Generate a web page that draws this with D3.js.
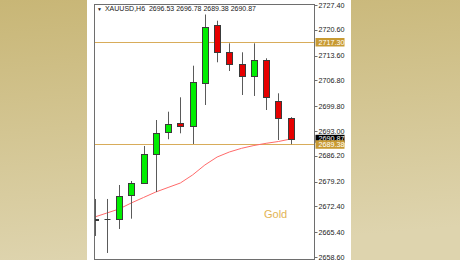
<!DOCTYPE html>
<html>
<head>
<meta charset="utf-8">
<script src="https://cdn.jsdelivr.net/npm/d3@7"></script>
<style>
  html, body { margin: 0; padding: 0; overflow: hidden; }
  svg { display: block; }
</style>
</head>
<body>
<div id="chart"></div>
<script>
// XAUUSD H6 candles
var opens  = [2668.57, 2668.90, 2668.90, 2675.61, 2678.89, 2686.72, 2692.65, 2695.10, 2694.37, 2706.02, 2721.86, 2714.49, 2711.29, 2708.02, 2712.30, 2701.27, 2696.53];
var highs  = [2674.44, 2674.44, 2678.26, 2679.35, 2688.91, 2696.00, 2698.27, 2702.20, 2710.83, 2724.81, 2723.11, 2716.94, 2714.49, 2716.94, 2712.85, 2703.29, 2696.78];
var lows   = [2664.34, 2659.70, 2666.25, 2669.06, 2678.80, 2676.35, 2690.74, 2692.37, 2689.45, 2700.10, 2711.76, 2709.38, 2702.83, 2702.56, 2698.73, 2690.54, 2689.38];
var closes = [2668.98, 2668.90, 2675.34, 2678.89, 2686.72, 2692.54, 2694.91, 2694.45, 2706.30, 2721.48, 2714.49, 2711.29, 2708.02, 2712.30, 2702.20, 2696.47, 2690.87];

// moving average
var maValues = [2669.5, 2670.6, 2671.7, 2673.35, 2674.85, 2676.35, 2677.58, 2678.8, 2681.0, 2683.72, 2685.9, 2687.27, 2688.28, 2689.04, 2689.64, 2690.13, 2690.82];

// price scale labels
var tickLabels = ["2727.40", "2720.60", "2713.60", "2706.80", "2699.80", "2693.00", "2686.20", "2679.20", "2672.40", "2665.40", "2658.60"];

// horizontal lines and bid
var levels = [2717.30, 2689.38];
var bid = 2690.87;
var title = "XAUUSD,H6  2696.53 2696.78 2689.38 2690.87";
var symbolName = "Gold";

var W = 460, H = 260;
var plot = {left: 94.5, top: 4.5, right: 314.5, bottom: 259.5};

var svg = d3.select("#chart").append("svg")
  .attr("width", W).attr("height", H);

// background gradient
var defs = svg.append("defs");
var grad = defs.append("linearGradient").attr("id", "bg")
  .attr("x1", 0).attr("y1", 0).attr("x2", 0.15).attr("y2", 1);
grad.append("stop").attr("offset", "0%").attr("stop-color", "#c8b676");
grad.append("stop").attr("offset", "100%").attr("stop-color", "#ded4ae");
svg.append("rect").attr("width", W).attr("height", H).attr("fill", "url(#bg)");

// white panel
svg.append("rect").attr("x", 87).attr("y", 0).attr("width", 264).attr("height", H)
  .attr("fill", "#ffffff");

defs.append("clipPath").attr("id", "plotclip")
  .append("rect")
  .attr("x", plot.left).attr("y", plot.top)
  .attr("width", plot.right - plot.left).attr("height", plot.bottom - plot.top);

var y = d3.scaleLinear()
  .domain([2658.6, 2727.4])
  .range([257, 5]);

var x = d3.scaleLinear()
  .domain([0, opens.length - 1])
  .range([94.5, 290.7]);

var candles = opens.map(function(o, i) {
  return {i: i, o: o, h: highs[i], l: lows[i], c: closes[i]};
});

var g = svg.append("g").attr("clip-path", "url(#plotclip)");

// level lines
g.selectAll(".level").data(levels).enter().append("line")
  .attr("x1", plot.left).attr("x2", plot.right)
  .attr("y1", d => Math.round(y(d)) + 0.5).attr("y2", d => Math.round(y(d)) + 0.5)
  .attr("stroke", "#d8ac5a").attr("stroke-width", 1);

// moving average
var maLine = d3.line()
  .x((d, i) => x(i))
  .y(d => y(d));
g.append("path").datum(maValues)
  .attr("d", maLine)
  .attr("fill", "none")
  .attr("stroke", "#ff6a6a")
  .attr("stroke-width", 1);

// candles
var bodyW = 6;
var cg = g.selectAll(".candle").data(candles).enter().append("g");

cg.append("line")
  .attr("x1", d => Math.round(x(d.i)) + 0.5)
  .attr("x2", d => Math.round(x(d.i)) + 0.5)
  .attr("y1", d => y(d.h))
  .attr("y2", d => y(d.l))
  .attr("stroke", "#5a5a5a");

cg.filter(d => d.o !== d.c).append("rect")
  .attr("x", d => Math.round(x(d.i)) - bodyW / 2 + 0.5)
  .attr("y", d => Math.round(y(Math.max(d.o, d.c))) + 0.5)
  .attr("width", bodyW)
  .attr("height", d => Math.max(1, Math.round(y(Math.min(d.o, d.c))) - Math.round(y(Math.max(d.o, d.c)))))
  .attr("fill", d => d.c > d.o ? "#00ee00" : "#e60000")
  .attr("stroke", "#3a3a3a");

cg.filter(d => d.o === d.c).append("line")
  .attr("x1", d => Math.round(x(d.i)) - bodyW / 2 + 0.5)
  .attr("x2", d => Math.round(x(d.i)) + bodyW / 2 + 0.5)
  .attr("y1", d => Math.round(y(d.o)) + 0.5)
  .attr("y2", d => Math.round(y(d.o)) + 0.5)
  .attr("stroke", "#3a3a3a");

// frame
svg.append("rect")
  .attr("x", plot.left).attr("y", plot.top)
  .attr("width", plot.right - plot.left).attr("height", plot.bottom - plot.top)
  .attr("fill", "none").attr("stroke", "#6e6e6e");

// price axis
var ax = svg.append("g").attr("font-family", "Liberation Sans, Arial, sans-serif")
  .attr("font-size", "7.2px");

ax.selectAll(".tick").data(tickLabels).enter().append("line")
  .attr("x1", plot.right).attr("x2", plot.right + 3)
  .attr("y1", d => Math.round(y(+d)) + 0.5).attr("y2", d => Math.round(y(+d)) + 0.5)
  .attr("stroke", "#6e6e6e");

ax.selectAll(".lbl").data(tickLabels).enter().append("text")
  .attr("x", 318.5)
  .attr("y", d => y(+d))
  .attr("dy", "0.35em")
  .attr("fill", "#1a1a1a")
  .text(d => d);

// bid tag
ax.append("rect")
  .attr("x", plot.right + 1).attr("y", y(bid) - 4).attr("width", 29).attr("height", 8)
  .attr("fill", "#000000");
ax.append("text")
  .attr("x", 318.5).attr("y", y(bid)).attr("dy", "0.35em")
  .attr("fill", "#ffffff").text(bid.toFixed(2));

// level tags
ax.selectAll(".ltag").data(levels).enter().append("rect")
  .attr("x", plot.right + 1).attr("y", d => y(d) - 4).attr("width", 29).attr("height", 8.5)
  .attr("fill", "#c89a32");
ax.selectAll(".ltxt").data(levels).enter().append("text")
  .attr("x", 318.5).attr("y", d => y(d)).attr("dy", "0.35em")
  .attr("fill", "#ffffff").text(d => d.toFixed(2));

// title
var t = svg.append("text")
  .attr("x", 97).attr("y", 11)
  .attr("font-family", "Liberation Sans, Arial, sans-serif")
  .attr("fill", "#1a1a1a");
t.append("tspan").attr("font-size", "5px").text("\u25BC");
t.append("tspan").attr("dx", 3).attr("font-size", "7px").attr("xml:space", "preserve").text(title);

// symbol name
svg.append("text")
  .attr("x", 264).attr("y", 218)
  .attr("font-family", "Liberation Sans, Arial, sans-serif")
  .attr("font-size", "11px")
  .attr("fill", "#e2b455")
  .text(symbolName);
</script>
</body>
</html>
